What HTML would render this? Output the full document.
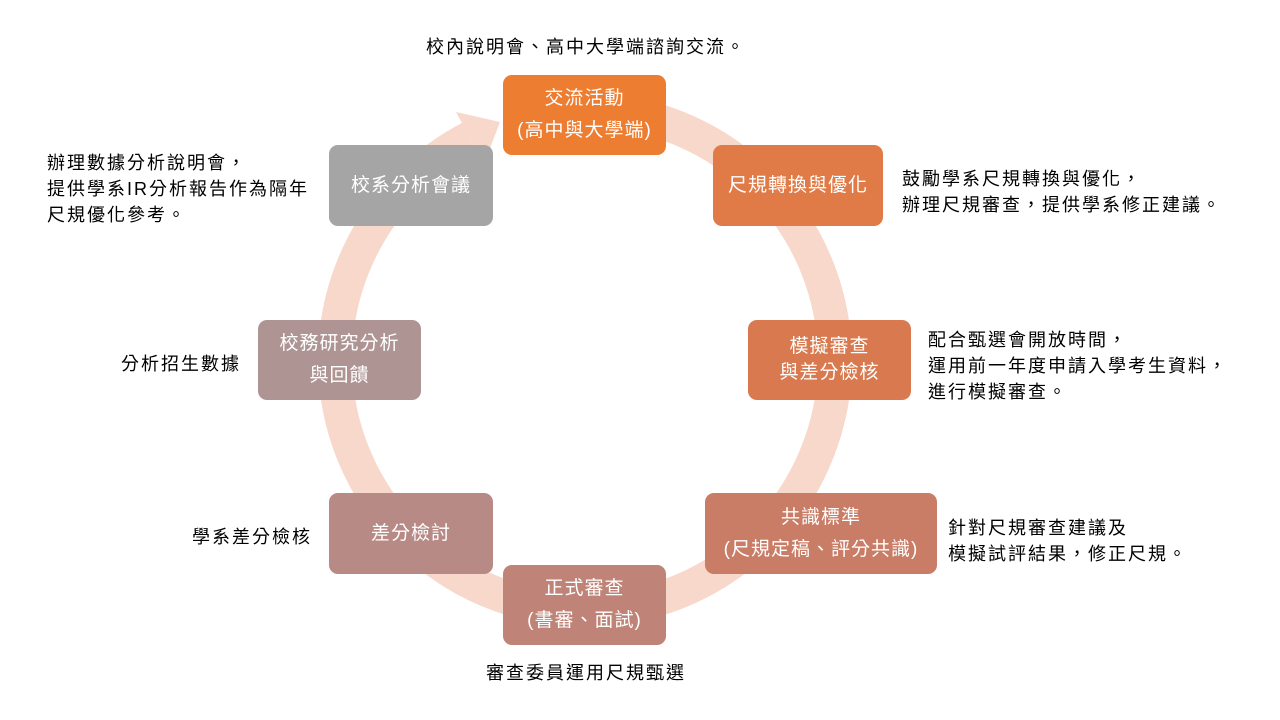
<!DOCTYPE html>
<html><head><meta charset="utf-8"><style>
body{margin:0;width:1280px;height:720px;background:#fff;position:relative;overflow:hidden;font-family:"Liberation Sans","Noto Sans CJK TC",sans-serif}
.b{position:absolute;border-radius:9px;color:#fff;font-size:19px;letter-spacing:1px;display:flex;flex-direction:column;justify-content:center;align-items:center;line-height:32px;text-align:center}
.t{position:absolute;font-size:18px;letter-spacing:2px;color:#000;line-height:26px;white-space:nowrap}
</style></head><body>
<svg width="1280" height="720" style="position:absolute;left:0;top:0">
<path d="M 584 110 A 250 250 0 1 1 470 138" fill="none" stroke="#F7D8CB" stroke-width="34"/>
<polygon points="484,164 456,112 500,122" fill="#F7D8CB"/>
</svg>
<div class="b" style="left:503px;top:75px;width:163px;height:80px;background:#ED7D31"><div>交流活動</div><div>(高中與大學端)</div></div>
<div class="b" style="left:713px;top:145px;width:170px;height:81px;background:#E07B47">尺規轉換與優化</div>
<div class="b" style="left:748px;top:320px;width:163px;height:80px;background:#D8794F;line-height:26px"><div>模擬審查</div><div>與差分檢核</div></div>
<div class="b" style="left:705px;top:493px;width:232px;height:81px;background:#C97C66"><div>共識標準</div><div>(尺規定稿、評分共識)</div></div>
<div class="b" style="left:503px;top:565px;width:163px;height:80px;background:#BF8477"><div>正式審查</div><div>(書審、面試)</div></div>
<div class="b" style="left:329px;top:493px;width:164px;height:81px;background:#B78A86">差分檢討</div>
<div class="b" style="left:258px;top:320px;width:163px;height:80px;background:#AE9594"><div>校務研究分析</div><div>與回饋</div></div>
<div class="b" style="left:329px;top:145px;width:164px;height:81px;background:#A5A5A5">校系分析會議</div>
<div class="t" style="left:426px;top:34px">校內說明會、高中大學端諮詢交流。</div>
<div class="t" style="left:902px;top:166px">鼓勵學系尺規轉換與優化，<br>辦理尺規審查，提供學系修正建議。</div>
<div class="t" style="left:928px;top:327px">配合甄選會開放時間，<br>運用前一年度申請入學考生資料，<br>進行模擬審查。</div>
<div class="t" style="left:948px;top:515px">針對尺規審查建議及<br>模擬試評結果，修正尺規。</div>
<div class="t" style="left:486px;top:660px">審查委員運用尺規甄選</div>
<div class="t" style="left:192px;top:524px">學系差分檢核</div>
<div class="t" style="left:121px;top:351px">分析招生數據</div>
<div class="t" style="left:47px;top:150px">辦理數據分析說明會，<br>提供學系IR分析報告作為隔年<br>尺規優化參考。</div>
</body></html>
